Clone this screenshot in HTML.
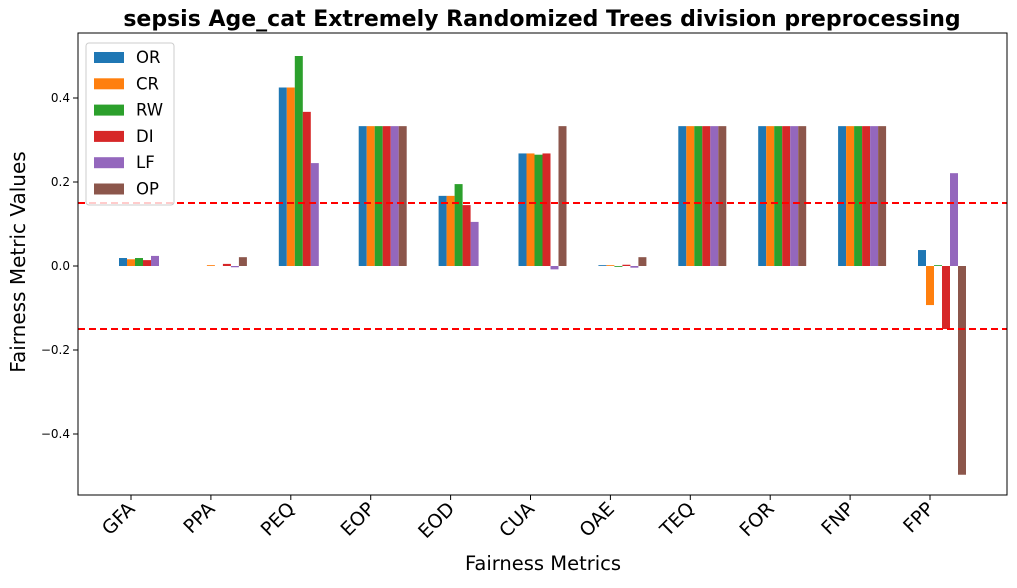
<!DOCTYPE html>
<html><head><meta charset="utf-8"><style>
body{margin:0;background:#fff;font-family:"DejaVu Sans",sans-serif;}
</style></head><body>
<svg width="1017" height="584" xmlns="http://www.w3.org/2000/svg" id="chart" font-family="DejaVu Sans, sans-serif">
<text x="542" y="26" text-anchor="middle" font-size="22" font-weight="bold">sepsis Age_cat Extremely Randomized Trees division preprocessing</text>
<text x="543" y="570" text-anchor="middle" font-size="19.5">Fairness Metrics</text>
<text transform="translate(25,262) rotate(-90)" text-anchor="middle" font-size="20">Fairness Metric Values</text>
<g id="marks"></g>
<rect x="78" y="33" width="929" height="462" fill="none" stroke="#000" stroke-width="1"/>
</svg>
<script>
const categories=["GFA","PPA","PEQ","EOP","EOD","CUA","OAE","TEQ","FOR","FNP","FPP"];
const seriesNames=["OR","CR","RW","DI","LF","OP"];
const colors=["#1f77b4","#ff7f0e","#2ca02c","#d62728","#9467bd","#8c564b"];
const OR=[0.019,0,0.425,0.333,0.167,0.268,0.002,0.333,0.333,0.333,0.038];
const CR=[0.016,0.002,0.425,0.333,0.167,0.268,0.002,0.333,0.333,0.333,-0.093];
const RW=[0.019,0,0.5,0.333,0.195,0.265,-0.002,0.333,0.333,0.333,0.002];
const DI=[0.014,0.005,0.367,0.333,0.145,0.268,0.003,0.333,0.333,0.333,-0.15];
const LF=[0.024,-0.003,0.245,0.333,0.105,-0.008,-0.004,0.333,0.333,0.333,0.221];
const OP=[0,0.021,0,0.333,0,0.333,0.021,0.333,0.333,0.333,-0.497];
const yTicks=[-0.4,-0.2,0.0,0.2,0.4];
const thresholds=[0.15,-0.15];
const series=[OR,CR,RW,DI,LF,OP];
const NS="http://www.w3.org/2000/svg";
const svg=document.getElementById('chart'),g=document.getElementById('marks');
function y(v){return 266-v*420;}
function xc(i){return 143+79.9*i;}
const bw=8;
function mk(t,a){const e=document.createElementNS(NS,t);for(const k in a)e.setAttribute(k,a[k]);return e;}
series.forEach((s,si)=>{s.forEach((v,i)=>{
 const x=xc(i)-3*bw+si*bw;
 const r=mk('rect',{x:x,y:Math.min(y(v),y(0)),width:bw,height:Math.abs(y(v)-y(0)),fill:colors[si]});
 
 
 g.appendChild(r);});});
thresholds.forEach(v=>{
 const l=mk('line',{x1:78,x2:1007,y1:y(v),y2:y(v),stroke:'#ff0000','stroke-width':2,'stroke-dasharray':'7,4'});
 
 
 g.appendChild(l);});
yTicks.forEach(v=>{
 const t=mk('line',{x1:73,x2:78,y1:y(v),y2:y(v),stroke:'#000'});
 
 
 svg.appendChild(t);
 const tx=mk('text',{x:70,y:y(v)+4,'text-anchor':'end','font-size':12});
 tx.textContent=(v<0?'\u2212':'')+Math.abs(v).toFixed(1);
 
 
 svg.appendChild(tx);});
categories.forEach((c,i)=>{
 const x=xc(i)-12;
 const t=mk('line',{x1:x,x2:x,y1:495,y2:500,stroke:'#000'});
 
 
 svg.appendChild(t);
 const tx=mk('text',{x:x+5,y:510,'text-anchor':'end','font-size':19,transform:`rotate(-45 ${x+5} 510)`});
 tx.textContent=c;
 
 
 svg.appendChild(tx);});
const lg=mk('g',{});


lg.appendChild(mk('rect',{x:86,y:43,width:88,height:162,rx:3,fill:'#fff','fill-opacity':0.8,stroke:'#ccc'}));
seriesNames.forEach((n,i)=>{
 const yy=57+i*26.3;
 const r=mk('rect',{x:94,y:yy-5,width:30,height:11,fill:colors[i]});
 
 
 lg.appendChild(r);
 const t=mk('text',{x:136,y:yy+6,'font-size':16.5});
 t.textContent=n;
 
 
 lg.appendChild(t);});
svg.appendChild(lg);
</script>
</body></html>
